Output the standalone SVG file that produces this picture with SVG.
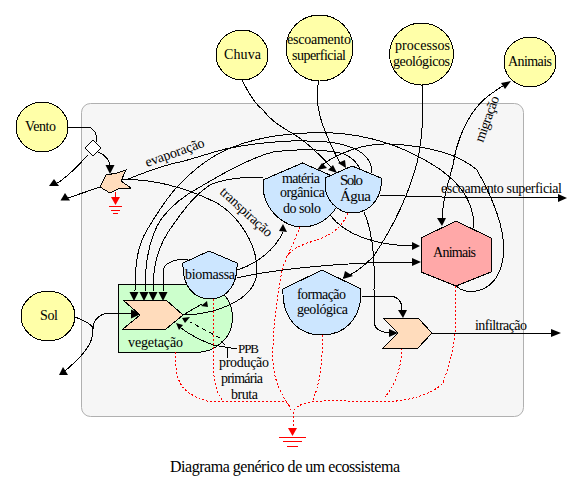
<svg xmlns="http://www.w3.org/2000/svg" width="579" height="485" viewBox="0 0 579 485">
<style>
text{font-family:"Liberation Serif","Times New Roman",serif;font-size:14px;fill:#000}
.n{stroke:#000;stroke-width:1;shape-rendering:crispEdges}
.y{fill:#ffffa8}.b{fill:#cce6ff}.o{fill:#ffdcbc}
#connectors path{fill:none;stroke:#000;stroke-width:1;shape-rendering:crispEdges}
#connectors path.r{stroke:#f00;stroke-dasharray:2 2}
#connectors path.d{stroke-dasharray:4 4}
#connectors polygon{fill:#000;stroke:none}
#connectors polygon.r{fill:#f00}
#connectors line.g{stroke:#f00;stroke-width:1;shape-rendering:crispEdges}
</style>
<rect x="81.5" y="103.5" width="442" height="313" rx="9" fill="#f6f6f6" stroke="#b0b0b0" stroke-width="1"/>
<g id="vegetacao-area"><path class="n" d="M118.5,284.5H195C222,284.500 232.500,300 232.500,318C232.500,338 216,352.500 195,352.500H118.500Z" fill="#ccffcc"/></g>
<g id="connectors">
<path d="M68,127H85C93,127 97,131 97,142"/>
<path d="M98,152C104,154 110,160 110,166"/>
<path d="M88,155C78,165 68,178 54,185"/>
<path d="M100,187L68,198"/>
<path d="M126,180C150,170 165,165 180,162C200,157 215,151 230,148C250,144 285,140 307,141C345,141 372,150 372,173"/>
<path d="M121,180C150,178 185,187 217,203C240,217 257,245 257,270C257,290 240,303 213,311C200,314 190,315 183,315"/>
<path d="M135,291C135,262 138,245 147,230C156,215 165,200 177,187C192,171 212,155 233,147C258,137 295,131 333,133C368,135 400,145 430,163C452,176 474,195 474,228"/>
<path d="M145,291C145,260 150,235 162,218C172,205 185,195 200,187C225,172 250,158 273,152C295,149 320,149 340,153C350,155 358,163 360,170"/>
<path d="M153,291C153,265 158,245 173,225C185,208 195,195 210,185C225,178 245,177 263,177"/>
<path d="M163,291V272C163,264 172,259 188,259"/>
<path d="M242,80C248,92 256,105 263,110C270,120 280,126 290,132C305,140 320,155 332,168"/>
<path d="M319,81C315,95 318,110 322,123C328,140 334,152 340,163"/>
<path d="M422,85C423,110 424,130 417,163C410,190 395,225 373,257C360,270 352,275 343,278"/>
<path d="M508,83C495,90 482,100 477,107C462,125 455,150 453,165C446,190 442,205 442,222"/>
<path d="M456,286C465,295 490,295 500,270C508,250 505,220 477,170C460,155 430,146 390,144C365,143 340,152 322,165"/>
<path d="M380,195C420,197 500,198 558,198"/>
<path d="M364,212C372,230 375,260 374,290V320C374,328 378,332 390,333"/>
<path d="M330,215C345,235 375,245 412,246"/>
<path d="M237,278C270,270 340,262 412,262"/>
<path d="M237,270C255,265 275,250 283,232"/>
<path d="M362,296H388C397,296 402,300 402,310"/>
<path d="M432,333H552"/>
<path d="M75,317C83,320 93,324 93,329C93,320 100,313 110,313H132"/>
<path d="M93,329C94,345 80,358 65,371"/>
<path d="M183,315L202,304"/>
<path d="M213,345C200,340 190,335 181,328"/>
<path class="d" d="M220,338L190,322"/>
<path d="M213,345L237,349M227,347V358M221,341L225,345"/>
<path class="r" d="M175,352C176,380 178,392 207,401H283C287,402 290,405 291,410"/>
<path class="r" d="M213,299V365C214,385 218,395 223,401"/>
<path class="r" d="M300,227C295,240 285,260 282,270C277,300 272,330 273,363C275,385 283,397 290,407"/>
<path class="r" d="M348,213C340,232 325,238 307,243C298,247 290,250 286,258"/>
<path class="r" d="M322,335C323,360 320,385 312,402"/>
<path class="r" d="M402,348C401,370 395,385 385,397"/>
<path class="r" d="M455,286C457,320 457,345 443,383C432,395 405,402 380,402C355,402 340,400 323,401C305,402 295,405 293,413V428"/>
<polygon points="110,174 105.500,165 114.500,165"/>
<polygon points="54,179 49,186 59,186"/>
<polygon points="65,193 60.500,200.500 70,200.500"/>
<polygon points="134,301 129.500,292 138.500,292"/>
<polygon points="144,301 139.500,292 148.500,292"/>
<polygon points="153,301 148.500,292 157.500,292"/>
<polygon points="163,301 158.500,292 167.500,292"/>
<polygon points="141,314 131,309.500 131,318.500"/>
<polygon points="63,367 59,375 68,375"/>
<polygon points="207,301 201,306 208,307"/>
<polygon points="182,318 190,317 185,323"/>
<polygon points="176,323 183,325 179,330"/>
<polygon points="283,224 279,231 287,232"/>
<polygon points="317,170 322,163 327,168"/>
<polygon points="337,173 328,170 333,165"/>
<polygon points="346,168 338,163 345,160"/>
<polygon points="343,279 345,271 353,276"/>
<polygon points="442,226 437,218 446,218"/>
<polygon points="511,81 501,83 505,89"/>
<polygon points="420,246 412,242 412,250"/>
<polygon points="421,262 412,258 412,266"/>
<polygon points="567,198 558,194 558,202"/>
<polygon points="398,333 389,329 389,337"/>
<polygon points="403,318 398,310 407,310"/>
<polygon points="561,333 551,329 551,337"/>
<polygon class="r" points="115.500,205 111,197 120,197"/>
<path class="r" style="stroke-dasharray:none" d="M115.500,192V198"/>
<line class="g" x1="109" y1="206.500" x2="122" y2="206.500"/>
<line class="g" x1="111" y1="210.500" x2="120" y2="210.500"/>
<line class="g" x1="113" y1="213.500" x2="118" y2="213.500"/>
<polygon class="r" points="292.500,436 288,428 297,428"/>
<line class="g" x1="279" y1="437.500" x2="306" y2="437.500"/>
<line class="g" x1="283" y1="441.500" x2="302" y2="441.500"/>
<line class="g" x1="287" y1="446.500" x2="298" y2="446.500"/>
</g>
<g id="vento"><ellipse class="n y" cx="42" cy="127" rx="26" ry="25"/><text x="25" y="131" textLength="31">Vento</text></g>
<g id="sol"><ellipse class="n y" cx="48" cy="316" rx="27" ry="25"/><text x="40" y="320" textLength="18">Sol</text></g>
<g id="chuva"><ellipse class="n y" cx="242" cy="55" rx="26" ry="25"/><text x="224" y="59" textLength="37">Chuva</text></g>
<g id="escoamento"><ellipse class="n y" cx="319.500" cy="48" rx="33.500" ry="33"/><text x="287" y="44" textLength="64">escoamento</text><text x="292" y="60" textLength="54">superficial</text></g>
<g id="processos"><ellipse class="n y" cx="421.500" cy="54" rx="32" ry="31"/><text x="395" y="50" textLength="55">processos</text><text x="393" y="66" textLength="57">geológicos</text></g>
<g id="animais-fonte"><ellipse class="n y" cx="530" cy="62" rx="26" ry="25"/><text x="508" y="66" textLength="44">Animais</text></g>
<g id="difusor"><polygon class="n" points="93,140 101,148 93,156 85,148" fill="#fff"/></g>
<g id="evap"><polygon class="n o" points="106,175 117,173 126,170 121,181 131,188 118,189 110,193 100,187"/></g>
<g id="materia"><path class="n b" d="M302.500,163L341,180V195C338,212 322,227 302,227C285,227 266,212 263,190V180Z"/><text x="282" y="183" textLength="38">matéria</text><text x="280" y="197" textLength="45">orgânica</text><text x="283" y="213" textLength="38">do solo</text></g>
<g id="solo"><path class="n b" d="M352,166L381,178C383,195 372,213 352,213C338,213 325,200 325,185V178Z"/><text x="340" y="185" textLength="23" style="font-size:15px">Solo</text><text x="340" y="201" textLength="31" style="font-size:15px">Água</text></g>
<g id="animais"><polygon class="n" points="456,221 491,238 491,272 456,286 421,272 421,238" fill="#ffa8a8"/><text x="433" y="257" textLength="43">Animais</text></g>
<g id="biomassa"><path class="n b" d="M209,251L237,263C238,283 228,299 210,299C193,299 182,285 183,263Z"/><text x="185" y="279" textLength="50">biomassa</text></g>
<g id="formacao"><path class="n b" d="M322,270L361,289C362,318 345,335 322,335C298,335 282,318 283,289Z"/><text x="297" y="299" textLength="49">formação</text><text x="297" y="314" textLength="51">geológica</text></g>
<g id="veg"><polygon class="n o" points="123,300 166,300 183,315 166,329 123,329 140,315"/><text x="128" y="347" textLength="55">vegetação</text></g>
<g id="infil"><polygon class="n o" points="383,318 418,318 432,333 418,348 383,348 398,333"/></g>
<g id="labels">
<text x="147" y="167" textLength="62" transform="rotate(-19.500 147 167)">evaporação</text>
<text x="219" y="193" textLength="66" transform="rotate(42.600 219 193)">transpiração</text>
<text x="483" y="143" textLength="48" transform="rotate(-70 483 143)">migração</text>
<text x="441" y="193" textLength="121">escoamento superficial</text>
<text x="475" y="330" textLength="52">infiltração</text>
<text x="238" y="353" textLength="21" style="font-size:13px">PPB</text>
<text x="219" y="367" textLength="50">produção</text>
<text x="221" y="383" textLength="42">primária</text>
<text x="231" y="399" textLength="27">bruta</text>
<text x="170" y="472" textLength="230" style="font-size:16px">Diagrama genérico de um ecossistema</text>
</g>
</svg>
